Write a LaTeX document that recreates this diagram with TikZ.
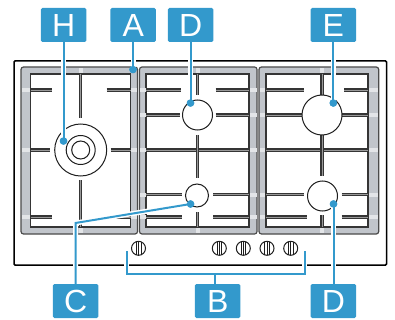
\documentclass[tikz,border=0pt]{standalone}
\usepackage{fontspec}
\setmainfont{Liberation Sans}
\definecolor{callout}{HTML}{3399CC}
\definecolor{panfill}{HTML}{C1C5CB}
\definecolor{ink}{HTML}{1E1E1E}
\definecolor{patch}{HTML}{E3E5E8}
\begin{document}
\begin{tikzpicture}[x=1pt,y=-1pt,
  tag/.style={fill=callout,rounded corners=1.5pt,minimum width=45.5pt,minimum height=34pt,inner sep=0pt,text=white,font=\fontsize{32}{32}\selectfont},
  hob/.style={draw=black,line width=1.5pt,rounded corners=1pt},
  pan/.style={draw=ink!80,fill=panfill,line width=1.2pt,rounded corners=2.5pt},
  panin/.style={draw=ink!90,fill=white,line width=1.6pt},
  bardark/.style={draw=ink!90,line width=3.2pt},
  barlight/.style={draw=gray!80,line width=.6pt},
  burner/.style={draw=ink,fill=white,line width=1pt},
  knobline/.style={draw=ink,line width=.8pt},
  halo/.style={draw=white,line width=5pt},
  lead/.style={draw=callout,line width=2pt},
  tick/.style={fill=patch},
  dotmark/.style={circle,fill=callout,minimum size=7.5pt,inner sep=0pt}]
\useasboundingbox (0,0) rectangle (395,320);
\draw[hob] (14,61) rectangle (386.5,265);
% pans
\draw[pan] (21,67) rectangle (137.5,234);
\draw[panin] (30.5,74) rectangle (130.5,226.7);
\draw[pan] (139.5,67) rectangle (257,234);
\draw[panin] (146,74) rectangle (249,226.7);
\draw[pan] (259,67) rectangle (378.7,234);
\draw[panin] (265.7,74) rectangle (368,226.7);
% light patches on the frames
\foreach \x/\w in {21.7/8.3,131/6,140.2/5.3,249.5/7,259.7/5.5,368.5/9.5}
  \foreach \y in {90,150,217}
    \fill[tick] (\x,\y-2) rectangle ++(\w,4);
\foreach \x/\w in {140.2/5.3,249.5/7,259.7/5.5,368.5/9.5}
  \fill[tick] (\x,113) rectangle ++(\w,4);
\foreach \x/\w in {140.2/5.3,249.5/7,259.7/5.5,368.5/9.5}
  \fill[tick] (\x,192.5) rectangle ++(\w,4);
\foreach \x in {80.5,197.5,322}{
  \fill[tick] (\x-2,67.6) rectangle ++(4,5.6);
  \fill[tick] (\x-2,227.5) rectangle ++(4,5.9);
}
% grate bars
\foreach \xa/\ya/\xb/\yb in {
  30.5/90/51.5/90, 106.5/90/130.5/90, 30.5/150/49.5/150, 110.5/150/130.5/150,
  30.5/217/51.5/217, 108/217/130.5/217, 80.5/74/80.5/118, 80.5/180/80.5/226.7,
  146/90/181/90, 215.7/90/249/90, 146/115/179.5/115, 215.7/115/249/115,
  146/150/249/150, 146/194.5/182/194.5, 213/194.5/249/194.5,
  146/217/182/217, 213/217/249/217, 197.5/74/197.5/95, 197.5/135/197.5/178,
  197.5/212/197.5/226.7,
  265.7/90/303.5/90, 344/90/368/90, 265.7/115/302/115, 342/115/368/115,
  265.7/150/368/150, 265.7/194.5/304/194.5, 341.7/194.5/368/194.5,
  265.7/217/306.7/217, 341.7/217/368/217, 322/74/322/95, 322/135/322/176,
  322/215/322/226.7}{
  \draw[bardark] (\xa,\ya) -- (\xb,\yb);
  \draw[barlight] (\xa,\ya) -- (\xb,\yb);
}
% burners
\draw[burner] (80.7,150) circle (26);
\draw[burner] (80.7,150) circle (14.5);
\draw[burner] (80.7,150) circle (9);
\draw[burner] (197.5,115) circle (15);
\draw[burner] (197,195.5) circle (11.5);
\draw[burner] (322,115) circle (20);
\draw[burner] (322.5,196) circle (15);
% knobs
\foreach \x in {138.5,219.3,243.3,267,290.7}{
  \draw[knobline,fill=white,line width=1pt] (\x,248.3) circle (7);
  \draw[knobline] (\x-2.4,242) -- (\x-2.4,254.6);
  \draw[knobline] (\x,241.5) -- (\x,255);
  \draw[knobline] (\x+2.4,242) -- (\x+2.4,254.6);
}
% labels
\node[tag] (H) at (63.7,25) {H};
\node[tag] (A) at (133.2,25) {A};
\node[tag] (D1) at (190.7,25) {D};
\node[tag] (E) at (333.3,25) {E};
\node[tag] (C) at (75.7,301) {C};
\node[tag] (B) at (217.7,301) {B};
\node[tag] (D2) at (333.3,301) {D};
% callout anchors
\node[dotmark] (dH) at (63.5,141) {};
\node[dotmark] (dA) at (133,69.5) {};
\node[dotmark] (dD1) at (190.5,103) {};
\node[dotmark] (dE) at (333.3,103) {};
\node[dotmark] (dC) at (190.5,204) {};
\node[dotmark] (dD2) at (333.5,204) {};
\coordinate (bendC) at (75.5,223);
\coordinate (brL) at (126.5,251);
\coordinate (brLb) at (126.5,273.5);
\coordinate (brRb) at (304.5,273.5);
\coordinate (brR) at (304.5,251);
\coordinate (brM) at (215,273.5);
% white halos
\draw[halo] (H.south -| dH) -- (dH.center);
\draw[halo] (A.south -| dA) -- (dA.center);
\draw[halo] (D1.south -| dD1) -- (dD1.center);
\draw[halo] (E.south -| dE) -- (dE.center);
\draw[halo] (C.north -| bendC) -- (bendC) -- (dC.center);
\draw[halo] (D2.north -| dD2) -- (dD2.center);
\draw[halo] (brL) -- (brLb) -- (brRb) -- (brR);
% leaders
\draw[lead] (H.south -| dH) -- (dH.center);
\draw[lead] (A.south -| dA) -- (dA.center);
\draw[lead] (D1.south -| dD1) -- (dD1.center);
\draw[lead] (E.south -| dE) -- (dE.center);
\draw[lead,line join=miter] (C.north -| bendC) -- (bendC) -- (dC.center);
\draw[lead] (D2.north -| dD2) -- (dD2.center);
\draw[lead] (brL) -- (brLb) -- (brRb) -- (brR);
\draw[lead] (brM) -- (B.north -| brM);
\node[dotmark] at (dH) {};
\node[dotmark] at (dA) {};
\node[dotmark] at (dD1) {};
\node[dotmark] at (dE) {};
\node[dotmark] at (dC) {};
\node[dotmark] at (dD2) {};
\end{tikzpicture}
\end{document}
